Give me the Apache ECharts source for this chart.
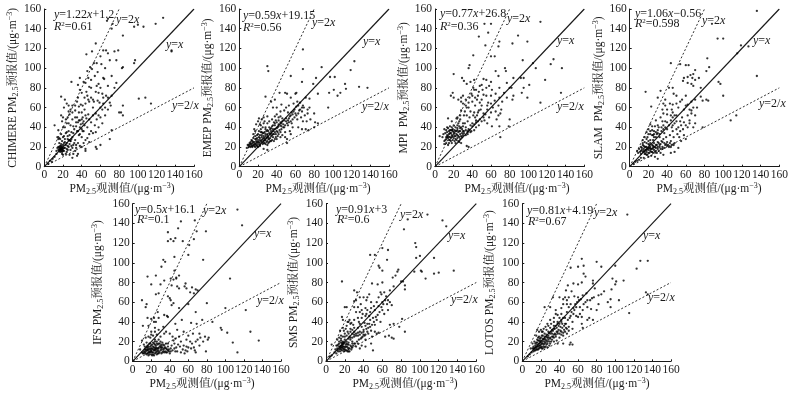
<!DOCTYPE html>
<html><head><meta charset="utf-8">
<style>html,body{margin:0;padding:0;background:#fff}#c{width:794px;height:396px}</style>
<script src="https://cdn.jsdelivr.net/npm/echarts@6/dist/echarts.min.js"></script>
</head><body><div id="c"></div>
<script>
const tickValues = [0,20,40,60,80,100,120,140,160];
const lineY1 = [[0,0],[160,160]];
const lineY2 = [[0,0],[80,160]];
const lineYHalf = [[0,0],[160,80]];

const chimere = [[127,151],[119,145],[106,142],[96,142],[100,144],[84,133],[136,117],[136,118],[96,105],[97,108],[83,100],[84,101],[77,108],[79,118],[75,117],[72,92],[66,118],[63,118],[68,115],[70,108],[55,125],[51,117],[45,114],[68,150],[67,148],[73,145],[72,140],[101,69],[108,70],[114,64],[84,62],[82,55],[84,52],[80,55],[70,65],[71,62],[68,58],[72,37],[70,28],[60,22],[55,20],[56,18],[44,16],[44,18],
[49,101],[51,99],[46,97],[57,96],[61,104],[65,100],[63,90],[64,89],[42,86],[44,85],[38,90],[29,86],[36,83],[48,81],[50,80],[38,78],[45,76],[40,75],[55,76],[58,75],[62,74],[57,67],[52,68],[53,66],[48,66],[44,64],[39,63],[37,61],[41,62],[18,71],[22,68],[24,64],[26,62],[21,60],[33,57],[30,55],[27,53],[25,50],[30,48],[33,50],[37,47],[40,48],[42,46],[45,49],[47,53],[52,52],[55,54],[60,60],[62,58],[65,52],[60,50],[50,45],[46,40],[43,42],[38,40],[35,36],[32,38],[28,42],[24,44],[20,40],[11,42],[15,37],[18,33],[14,30],[15,28],[21,31],[23,34],[26,36],[30,30],[33,27],[37,32],[40,30],[44,27],[48,25],[36,24],[31,22],[28,26],[25,28],[24,24],[22,25],[20,22],[18,23],[16,24],[15,20],[17,21],[19,20],[18,18],[17,19],[16,18],[19,17],[18,16],[20,18],[17,17],[15,17],[19,15],[21,16],[22,19],[24,18],[26,20],[28,17],[30,19],[33,16],[36,13],[35,11],[30,9],[27,12],[23,13],[20,12],[13,13],[11,10],[9,8],[6,6],[8,5],[4,3],[27,27],[28,26],[26,27],[29,28],[36,36],[38,33],[41,36],[24,35],[22,40],[26,44],[34,45],[30,62],[36,70],[46,72],[52,60],[58,40],[55,35],[50,36],[48,33],[62,44],[40,55],[43,58],[31,41],[19,46],[18,52]];
const chimereMore = [[35,50],[36,45],[38,47],[41,44],[39,43],[34,41],[31,34],[29,35],[27,32],[25,31],[22,28],[20,30],[17,28],[19,26],[16,29],[21,24],[23,22],[25,21],[27,23],[29,21],[32,24],[34,22],[38,21],[40,20],[42,24],[46,29],[52,34],[54,42],[56,48],[58,52],[63,64],[66,72],[68,70],[50,88],[54,92],[47,90],[56,82],[58,84],[60,80],[43,70],[47,68],[50,70],[35,66],[33,62],[28,58],[26,56],[23,48],[20,50],[37,55],[41,50],[44,52],[48,48],[42,36],[40,38],[17,15],[16,16],[18,19],[19,18],[20,16],[21,19],[16,20],[18,21],[14,19],[13,16],[19,13],[24,15],[31,13],[34,19],[25,17],[59,65],[63,70],[65,60],[77,85],[75,80],[72,72],[68,82],[56,105],[60,112],[53,105]];

const emep = [[30,102],[31,97],[68,119],[68,99],[55,92],[67,86],[88,101],[97,91],[102,91],[123,107],[119,98],[113,84],[114,79],[128,81],[137,80],[105,72],[108,75],[101,78],[96,75],[95,60],[84,74],[82,90],[79,84],[80,54],[73,54],[75,60],[75,69],[71,70],[61,75],[60,74],[49,75],[51,74],[55,70],[43,75],[28,71],
[68,62],[65,65],[63,62],[61,61],[59,58],[66,50],[70,52],[72,46],[68,46],[62,48],[63,40],[71,38],[74,37],[81,45],[84,44],[80,40],[67,38],[56,44],[57,40],[54,36],[55,33],[48,40],[45,38],[41,40],[38,42],[36,38],[34,36],[31,36],[30,33],[28,33],[26,31],[24,32],[22,29],[20,27],[18,26],[17,28],[16,25],[14,24],[12,23],[15,22],[13,21],[11,21],[10,20],[8,19],[9,22],[18,22],[20,23],[22,24],[24,27],[26,26],[28,27],[30,30],[32,28],[34,31],[36,33],[38,35],[40,36],[42,33],[44,35],[46,32],[49,30],[51,28],[51,24],[40,28],[37,26],[35,27],[31,24],[27,24],[26,18],[30,17],[15,33],[17,36],[19,32],[21,36],[23,38],[25,40],[28,40],[30,44],[32,46],[26,44],[22,43],[18,43],[16,38],[24,48],[21,49],[20,46],[26,50],[30,51],[35,48],[38,51],[40,53],[42,50],[44,51],[46,49],[42,43],[45,44],[47,43],[50,46],[53,49],[55,52],[52,55],[48,57],[44,56],[40,60],[36,60],[38,68],[34,66],[45,63],[50,60],[53,62],[58,64],[62,66],[60,54],[57,53],[64,57],[67,56],[69,60],[76,48],[73,58],[52,42],[49,35],[44,30],[41,31],[39,30],[33,33],[29,36],[27,35],[25,34],[23,35],[21,30],[19,29],[17,31],[15,29],[13,27],[14,26],[12,25],[16,21],[19,21],[22,22],[25,23],[29,25],[33,26],[27,29],[30,26],[31,30],[35,41],[37,45],[33,38],[39,47]];
const emepMore = [[11,24],[13,23],[15,25],[17,23],[19,25],[21,25],[23,26],[25,28],[27,27],[29,29],[31,28],[33,29],[35,32],[37,33],[39,33],[41,35],[43,37],[45,41],[47,40],[49,42],[51,44],[53,45],[55,46],[57,48],[59,50],[61,52],[63,54],[65,58],[67,60],[14,21],[16,23],[18,24],[20,25],[22,27],[24,30],[26,29],[28,31],[30,32],[32,34],[34,34],[36,36],[38,38],[40,39],[42,41],[44,42],[46,46],[48,47],[50,49],[52,47],[54,51],[56,55],[58,56],[12,20],[18,28],[20,33],[22,32],[24,35],[26,34],[28,38],[30,37],[32,40],[34,39],[36,42],[38,44],[40,45],[42,47],[44,45],[24,25],[26,24],[28,23],[30,22],[32,25],[34,26],[36,30],[38,28],[20,20],[22,21],[14,20],[17,20],[10,22],[23,42],[27,46]];

const mpi = [[113,147],[53,145],[60,145],[47,132],[57,136],[89,133],[83,125],[69,127],[99,127],[68,122],[54,123],[94,108],[127,109],[124,104],[136,100],[108,100],[105,105],[41,113],[60,112],[64,112],[36,100],[37,103],[20,94],[92,90],[101,83],[95,90],[118,88],[84,90],[99,70],[93,75],[95,80],[135,75],[113,65],[80,48],[70,30],[75,100],[76,97],[77,85],[80,80],[82,80],[84,72],[83,68],[77,70],[74,75],[69,80],[65,97],[68,92],[60,86],[55,88],[52,89],[50,83],[42,88],[38,86],[29,90],[31,87],[34,84],[41,80],[42,78],[44,78],[48,82],[52,73],[55,72],[46,72],[40,72],[37,70],[30,72],[28,66],[25,68],[19,75],[17,72],[20,70],[33,62],[36,65],[43,62],[48,65],[50,62],[57,65],[60,64],[64,67],[62,60],[68,62],[71,58],[70,54],[68,52],[65,56],[60,55],[56,58],[52,54],[46,55],[41,52],[38,56],[32,56],[28,57],[24,50],[27,52],[23,49],[14,49],[18,46],[26,46],[30,44],[35,46],[40,44],[44,47],[48,48],[53,47],[56,44],[61,41],[69,41],[79,41],[42,37],[39,36],[36,38],[33,40],[30,36],[27,39],[24,37],[22,40],[20,42],[18,40],[16,41],[14,39],[12,37],[10,38],[9,33],[8,30],[5,31],[11,34],[13,32],[15,33],[17,34],[19,36],[21,34],[23,33],[25,31],[27,33],[29,30],[31,34],[12,28],[14,29],[16,27],[18,30],[20,29],[22,28],[24,29],[10,23],[12,24],[14,22],[18,24],[26,25],[28,24],[34,21],[36,20],[17,26],[15,27],[13,30],[19,31],[21,31],[26,36],[29,38],[32,44],[37,50],[44,40],[47,42],[35,33],[38,35],[22,24],[16,37],[11,27],[10,26],[24,42],[42,55],[45,68],[58,50],[66,48]];
const mpiMore = [[13,35],[15,36],[17,37],[19,38],[21,37],[23,36],[25,35],[27,36],[29,34],[31,36],[33,37],[35,36],[12,30],[14,31],[16,30],[18,32],[20,33],[22,31],[24,32],[26,30],[28,31],[30,32],[15,24],[17,29],[19,27],[21,26],[23,27],[25,26],[27,28],[33,32],[35,35],[37,37],[22,36],[24,39],[26,41],[28,40],[30,41],[13,40],[16,34],[18,37],[20,35],[38,42],[40,41],[42,43],[44,45],[46,46],[50,46],[52,50],[54,53],[43,50],[45,52],[47,57],[49,58],[34,60],[36,60],[40,66],[39,74],[43,70],[47,76],[51,78],[55,80],[58,82],[61,78],[65,74],[69,70],[72,66],[60,72],[56,62],[50,68],[33,68],[30,64],[28,70],[27,48],[25,44],[31,52],[34,52]];

const slam = [[136,158],[94,130],[100,130],[119,123],[127,122],[115,115],[136,92],[95,86],[97,84],[100,72],[83,110],[44,105],[54,104],[60,103],[63,103],[85,101],[17,76],[33,77],[108,47],[114,52],[78,40],[88,145],[82,97],[74,90],[70,98],[68,94],[67,90],[65,93],[62,91],[58,90],[57,87],[62,85],[66,84],[68,82],[70,88],[76,80],[46,80],[42,80],[47,74],[50,72],[30,70],[38,68],[76,71],[78,67],[84,67],[82,68],[70,68],[66,66],[60,72],[56,68],[54,66],[50,64],[46,63],[43,64],[38,62],[23,61],[35,58],[40,58],[45,58],[52,60],[60,62],[64,58],[66,57],[68,60],[70,52],[66,54],[62,52],[56,50],[50,52],[46,50],[40,53],[36,54],[44,47],[38,46],[33,50],[28,47],[22,43],[24,41],[30,42],[36,42],[42,42],[48,44],[54,46],[58,45],[70,44],[68,40],[62,40],[52,40],[50,38],[46,36],[40,38],[34,36],[30,34],[26,36],[20,38],[18,35],[22,33],[25,32],[28,30],[32,30],[36,28],[40,25],[44,26],[47,22],[52,19],[55,26],[60,28],[48,15],[44,14],[35,18],[32,20],[28,22],[25,21],[22,24],[20,26],[18,28],[16,25],[14,22],[12,20],[10,18],[8,16],[9,14],[12,13],[14,15],[15,18],[17,17],[18,15],[20,14],[22,16],[24,15],[26,17],[28,16],[30,18],[33,14],[36,12],[30,8],[27,10],[23,11],[20,10],[18,12],[16,13],[15,9],[12,9],[10,7],[8,6],[6,5],[4,3],[18,20],[20,19],[22,20],[24,22],[26,24],[30,25],[34,26],[38,22],[42,20],[16,20],[14,27],[19,30],[25,27],[29,33],[37,34],[43,32],[39,30],[31,40],[27,41],[15,16],[13,17],[21,22],[35,46],[45,40],[55,42],[64,47]];
const slamMore = [[13,19],[15,21],[17,20],[19,18],[21,19],[23,18],[25,19],[27,20],[29,22],[31,24],[33,23],[35,25],[37,24],[39,23],[41,22],[43,24],[45,22],[16,15],[18,17],[20,17],[22,18],[24,18],[26,20],[28,19],[30,20],[32,22],[17,13],[19,12],[21,14],[23,15],[25,14],[27,15],[29,14],[31,16],[33,18],[35,20],[37,19],[40,21],[44,20],[48,24],[20,33],[22,36],[24,37],[26,33],[28,35],[30,37],[32,33],[34,40],[36,38],[38,40],[40,45],[44,52],[46,55],[48,52],[24,32],[26,30],[16,30],[14,24],[12,16],[11,15],[47,30],[51,33],[54,36],[57,38],[60,42],[64,44],[50,46],[46,42],[53,30],[58,32],[18,24],[20,23],[22,27],[62,63],[58,58],[72,60],[36,64]];

const ifs = [[113,154],[118,138],[67,143],[52,142],[49,135],[38,131],[69,132],[79,132],[46,125],[41,124],[38,122],[44,122],[54,122],[66,124],[61,118],[60,108],[45,106],[76,103],[33,103],[35,101],[31,96],[45,92],[47,85],[50,87],[16,86],[25,87],[34,82],[41,84],[44,83],[47,84],[30,78],[20,78],[42,77],[48,76],[50,74],[57,79],[56,76],[58,74],[64,75],[68,73],[70,72],[62,70],[66,69],[105,84],[38,66],[40,64],[41,62],[28,69],[25,68],[10,62],[15,58],[14,55],[44,59],[42,57],[60,58],[80,59],[100,54],[122,52],[50,54],[34,47],[37,46],[27,50],[68,50],[28,44],[16,44],[20,43],[23,40],[25,40],[11,36],[17,36],[24,34],[20,30],[46,38],[53,42],[63,39],[69,38],[75,42],[86,40],[95,34],[96,32],[102,29],[127,30],[136,21],[108,19],[113,9],[82,24],[81,22],[70,22],[73,24],[60,26],[65,28],[55,30],[48,32],[40,28],[34,28],[30,25],[26,27],[22,26],[19,24],[14,24],[10,21],[8,12],[10,9],[12,10],[14,8],[15,11],[16,14],[17,9],[18,7],[19,12],[20,10],[21,13],[22,9],[23,6],[24,11],[25,14],[26,10],[27,8],[28,13],[29,15],[30,11],[31,17],[32,14],[33,12],[34,16],[35,10],[36,13],[37,9],[38,15],[39,12],[40,8],[16,16],[18,18],[20,16],[22,19],[24,17],[26,20],[28,18],[30,20],[13,15],[15,19],[12,17],[42,16],[45,18],[44,21],[47,14],[48,10],[52,9],[54,12],[56,8],[58,15],[60,14],[62,20],[64,18],[67,11],[68,9],[79,10],[52,20],[50,25],[46,23],[58,22],[72,16],[76,20],[24,22],[18,10],[17,6],[20,7],[21,6],[13,12],[11,8],[16,8],[19,9],[23,14],[25,9],[27,17],[34,9],[36,18],[31,8],[43,11],[41,13],[38,18]];
const ifsMore = [[15,7],[17,12],[19,15],[21,9],[23,11],[25,12],[27,11],[29,9],[31,12],[33,10],[35,14],[37,12],[39,10],[41,10],[14,12],[16,11],[18,13],[20,13],[22,12],[24,8],[26,13],[28,10],[30,14],[32,9],[34,13],[36,9],[38,11],[15,14],[17,15],[19,18],[21,17],[23,18],[25,16],[27,13],[29,18],[31,14],[33,17],[12,8],[13,9],[14,10],[16,12],[18,9],[20,11],[22,7],[24,13],[26,7],[28,8],[22,15],[24,20],[26,18],[28,22],[30,16],[32,19],[45,13],[46,10],[49,17],[51,15],[55,16],[57,11],[59,10],[63,13],[66,14],[68,20],[72,28],[78,25],[24,30],[28,32],[33,35],[20,27],[17,25],[23,44],[36,30],[43,25],[38,45]];

const sms = [[108,149],[87,144],[124,143],[128,137],[83,134],[95,120],[96,116],[66,113],[60,115],[52,108],[47,108],[56,97],[57,95],[96,105],[100,107],[115,105],[65,103],[60,92],[77,93],[76,91],[74,87],[71,85],[94,91],[101,92],[102,91],[106,84],[115,89],[120,90],[136,92],[17,81],[82,81],[80,81],[84,77],[84,73],[60,80],[55,78],[49,79],[30,72],[33,70],[46,68],[58,70],[62,70],[68,72],[72,76],[36,65],[40,65],[32,62],[30,61],[43,62],[48,60],[64,66],[66,62],[68,60],[70,57],[66,52],[62,48],[60,52],[56,56],[52,52],[48,54],[44,52],[42,54],[38,52],[36,50],[32,50],[20,55],[22,55],[17,45],[18,42],[24,40],[26,38],[30,42],[34,44],[38,44],[42,46],[46,46],[50,44],[54,42],[58,40],[52,37],[46,38],[42,36],[38,35],[34,34],[30,34],[26,33],[22,36],[18,34],[30,30],[32,28],[36,30],[40,32],[44,30],[48,31],[52,30],[56,29],[68,37],[72,38],[78,35],[81,43],[84,30],[63,25],[67,26],[70,24],[72,23],[50,11],[48,18],[42,22],[38,24],[34,26],[30,25],[28,28],[26,30],[24,28],[22,26],[20,28],[18,25],[16,26],[14,24],[12,22],[14,20],[16,21],[18,20],[20,22],[22,20],[24,19],[26,22],[28,20],[30,18],[34,18],[38,16],[42,15],[36,13],[32,15],[28,14],[24,13],[22,15],[20,14],[18,15],[16,16],[14,15],[12,13],[10,12],[9,9],[11,8],[13,10],[15,13],[17,14],[19,12],[21,11],[23,10],[25,10],[27,12],[18,17],[19,18],[17,18],[16,14],[21,17],[23,17],[13,17],[11,16],[6,17],[4,5],[6,6],[25,25],[28,32],[36,38],[41,39],[47,42],[60,60],[45,28],[40,27],[23,30],[19,31],[15,31]];
const smsMore = [[12,16],[14,18],[16,19],[18,19],[20,19],[22,18],[24,17],[26,16],[15,15],[17,16],[19,15],[21,15],[23,14],[25,13],[27,15],[29,16],[31,18],[33,20],[35,22],[37,23],[39,25],[41,26],[14,12],[16,12],[18,13],[20,12],[22,11],[24,10],[15,10],[17,11],[19,10],[12,11],[24,23],[26,24],[28,24],[30,27],[32,26],[34,29],[36,27],[38,29],[40,30],[43,33],[45,34],[47,35],[49,37],[51,40],[53,45],[55,47],[57,50],[59,55],[61,58],[63,62],[65,58],[35,40],[39,48],[43,48],[47,50],[51,56],[54,60],[56,65],[59,68],[37,58],[34,55],[29,37],[27,39],[21,33],[23,40],[25,42],[44,38],[49,25],[54,28],[42,27],[28,18],[16,23],[20,25],[44,65],[30,55]];

const lotos = [[113,149],[127,102],[135,102],[123,94],[100,97],[97,84],[101,81],[109,82],[100,78],[96,73],[104,62],[95,63],[95,55],[115,49],[133,70],[135,68],[64,104],[66,97],[80,101],[85,96],[52,95],[60,96],[66,89],[68,86],[64,80],[76,82],[76,79],[60,78],[55,79],[49,77],[47,72],[53,71],[78,74],[88,71],[85,68],[82,67],[92,60],[82,58],[65,67],[69,69],[75,64],[73,62],[77,65],[68,60],[60,65],[56,66],[50,65],[46,65],[40,65],[33,65],[24,55],[30,55],[44,58],[48,62],[52,58],[58,55],[62,55],[65,52],[70,55],[74,53],[80,52],[72,44],[76,42],[64,45],[70,42],[65,34],[64,38],[60,45],[55,48],[52,46],[48,50],[42,48],[36,52],[34,44],[30,42],[38,40],[42,40],[46,38],[50,35],[54,33],[48,28],[44,26],[42,30],[38,30],[34,36],[30,34],[28,36],[26,32],[24,28],[22,30],[20,32],[18,30],[16,32],[15,26],[18,25],[20,24],[22,26],[24,25],[26,27],[28,26],[30,24],[32,28],[34,27],[36,25],[40,24],[52,19],[54,17],[51,17],[44,18],[38,18],[34,20],[30,18],[27,20],[24,18],[22,20],[20,19],[18,18],[16,17],[14,16],[12,15],[15,19],[17,21],[19,20],[21,18],[23,17],[25,15],[27,14],[29,16],[22,13],[20,14],[18,13],[16,12],[14,11],[12,10],[10,9],[8,7],[6,5],[9,13],[11,13],[13,13],[17,15],[19,16],[21,15],[15,14],[23,22],[25,22],[27,24],[29,29],[31,30],[33,31],[35,33],[37,34],[39,36],[41,35],[43,34],[45,32],[47,34],[26,17],[24,14],[19,23],[17,24],[21,26],[13,20],[11,18],[16,22],[32,22],[37,21],[28,30],[40,44],[46,44],[56,52],[62,48],[66,58]];
const lotosMore = [[12,13],[14,14],[16,15],[18,16],[20,17],[22,18],[24,20],[26,21],[28,22],[30,23],[32,25],[34,24],[36,27],[38,28],[40,28],[42,27],[44,29],[46,30],[48,33],[50,31],[14,18],[16,19],[18,21],[20,21],[22,23],[24,23],[26,25],[28,24],[30,28],[32,32],[34,33],[36,36],[38,38],[40,38],[42,42],[44,44],[13,11],[15,12],[17,12],[19,14],[21,13],[23,15],[25,19],[27,18],[29,20],[31,20],[33,25],[35,28],[37,30],[39,32],[41,31],[43,38],[45,36],[47,38],[49,42],[51,44],[53,50],[55,54],[57,58],[59,60],[61,62],[58,46],[48,58],[44,63],[42,54],[38,47],[36,48],[34,40],[25,35],[27,38],[23,33],[21,30],[31,38],[54,40],[50,55],[63,63],[70,62]];

const extras = {chimere:chimereMore,emep:emepMore,mpi:mpiMore,slam:slamMore,ifs:ifsMore,sms:smsMore,lotos:lotosMore};

const panels = [
 {name:'CHIMERE PM',pts:chimere.concat(extras.chimere),x0:44.3,x1:194,top:9,bot:166.7,gap:23,eq:'y=1.22x+1.2',r2:'0.61',nx:122,
  eqPos:[54,9],r2Pos:[54,21],y2:[116,14],y1:[166,39],yh:[172,100]},
 {name:'EMEP PM',pts:emep.concat(extras.emep),x0:239.3,x1:389,top:9,bot:166.7,gap:20,eq:'y=0.59x+19.15',r2:'0.56',nx:318,
  eqPos:[243,10],r2Pos:[243,22],y2:[312,17],y1:[363,36],yh:[362,101]},
 {name:'MPI  PM',pts:mpi.concat(extras.mpi),x0:435,x1:584.3,top:9,bot:166.7,gap:20,eq:'y=0.77x+26.8',r2:'0.36',nx:517,
  eqPos:[440,8],r2Pos:[440,21],y2:[507,13],y1:[557,35],yh:[557,101]},
 {name:'SLAM  PM',pts:slam.concat(extras.slam),x0:629.7,x1:779.3,top:9,bot:166.7,gap:21,eq:'y=1.06x−0.56',r2:'0.598',nx:709,
  eqPos:[635,8],r2Pos:[635,18],y2:[702,15],y1:[753,35],yh:[759,98]},
 {name:'IFS PM',pts:ifs.concat(extras.ifs),x0:132.7,x1:281,top:203.7,bot:361.3,gap:28,eq:'y=0.5x+16.1',r2:'0.1',nx:202,
  eqPos:[135,204],r2Pos:[137,214],y2:[203,205],y1:[254,228],yh:[257,295]},
 {name:'SMS PM',pts:sms.concat(extras.sms),x0:326,x1:476.3,top:203.7,bot:361.3,gap:25,eq:'y=0.91x+3',r2:'0.6',nx:405,
  eqPos:[336,204],r2Pos:[337,214],y2:[400,209],y1:[448,230],yh:[451,294]},
 {name:'LOTOS PM',pts:lotos.concat(extras.lotos),x0:522.3,x1:671,top:203.7,bot:361.3,gap:25,eq:'y=0.81x+4.19',r2:'0.67',nx:597,
  eqPos:[527,205],r2Pos:[528,216],y2:[594,207],y1:[643,230],yh:[648,292]}
];

const FONT = '"Liberation Serif","Noto Serif CJK SC","Noto Sans CJK SC",serif';
const INK = '#1a1a1a';
const nameRich = {
  sub:{fontSize:8,verticalAlign:'bottom',padding:[6,0,0,0],fontFamily:FONT,color:INK},
  sup:{fontSize:8,verticalAlign:'top',padding:[0,0,5,0],fontFamily:FONT,color:INK}
};
const italicize = s => s.replace(/[xy]/g, m => `{i|${m}}`);
const noteRich = {
  i:{fontStyle:'italic',fontSize:12,fontFamily:FONT,fill:INK,color:INK},
  s:{fontSize:7,verticalAlign:'top',fontFamily:FONT,fill:INK,color:INK}
};
function note(text,pos){
  return {type:'text',left:pos[0],top:pos[1],z:20,silent:true,
    style:{text,rich:noteRich,fontSize:12,fontFamily:FONT,fill:INK}};
}

const grid=[],xAxis=[],yAxis=[],series=[],graphic=[];
panels.forEach((p,i)=>{
  grid.push({left:p.x0,width:p.x1-p.x0,top:p.top,height:p.bot-p.top});
  const common={min:0,max:160,interval:20,type:'value',gridIndex:i,splitLine:{show:false},
    axisLine:{onZero:false,lineStyle:{color:INK,width:1}},
    axisTick:{inside:true,length:2,lineStyle:{color:INK,width:1}},
    axisLabel:{fontFamily:FONT,fontSize:11.5,color:INK,margin:3,showMinLabel:true,showMaxLabel:true,hideOverlap:false,
      customValues:tickValues},
    nameLocation:'center',nameTextStyle:{fontFamily:FONT,fontSize:11.5,color:INK,rich:nameRich}};
  xAxis.push({...common,name:'PM{sub|2.5}观测值/(μg·m{sup|−3})',nameGap:15,
    nameTextStyle:{...common.nameTextStyle,padding:[0,0,0,(p.nx-(p.x0+p.x1)/2)*2]}});
  yAxis.push({...common,name:p.name+'{sub|2.5}预报值/(μg·m{sup|−3})',nameGap:p.gap,nameRotate:90});
  const line=(data,dashed)=>({type:'line',xAxisIndex:i,yAxisIndex:i,data,symbol:'none',silent:true,animation:false,z:3,
    lineStyle:{color:INK,width:dashed?0.9:1.2,type:dashed?[2,2]:'solid'}});
  series.push(line(lineY1,false),line(lineY2,true),line(lineYHalf,true));
  series.push({type:'scatter',xAxisIndex:i,yAxisIndex:i,data:p.pts,symbol:'circle',symbolSize:2.3,animation:false,z:4,
    itemStyle:{color:'#000'}});
  graphic.push(note(italicize(p.eq),p.eqPos));
  graphic.push(note('{i|R}{s|2}='+p.r2,p.r2Pos));
  graphic.push(note('{i|y}=2{i|x}',p.y2));
  graphic.push(note('{i|y}={i|x}',p.y1));
  graphic.push(note('{i|y}=2/{i|x}',p.yh));
});
const chart=echarts.init(document.getElementById('c'),null,{renderer:'canvas'});
chart.setOption({animation:false,backgroundColor:'#fff',grid,xAxis,yAxis,series,graphic});
</script></body></html>
